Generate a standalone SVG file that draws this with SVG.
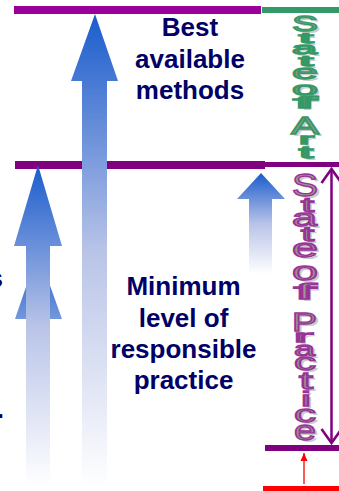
<svg xmlns="http://www.w3.org/2000/svg" xmlns:xlink="http://www.w3.org/1999/xlink" width="339" height="491" viewBox="0 0 339 491">
<style>
.lbl{font-family:"Liberation Sans",Arial,sans-serif;font-weight:bold;font-size:26px;fill:#000066;text-anchor:middle}
.vt{font-family:"Liberation Sans",Arial,sans-serif;font-weight:normal}
.shadow{fill:#c4c4c4;stroke:none;opacity:0.85}
.artTxt{fill:#9c968c;stroke:#339966;stroke-width:1.3}
.pracTxt{fill:#9c968c;stroke:#993399;stroke-width:1.3}
</style>
<defs>
<linearGradient id="blueFade" x1="0" y1="0" x2="0" y2="1">
<stop offset="0" stop-color="#1a5ccc"/>
<stop offset="0.5" stop-color="#b8c3e7"/>
<stop offset="1" stop-color="#ffffff"/>
</linearGradient>
<marker id="openHead" viewBox="-16 -12 18 24" refX="0" refY="0" markerWidth="18" markerHeight="24" markerUnits="userSpaceOnUse" orient="auto-start-reverse" overflow="visible">
<path d="M-14,-10 L0,0 L-14,10" fill="none" stroke="#800080" stroke-width="2.5" stroke-linejoin="miter"/>
</marker>
<marker id="redHead" viewBox="-9 -4 10 8" refX="0" refY="0" markerWidth="10" markerHeight="8" markerUnits="userSpaceOnUse" orient="auto" overflow="visible">
<path d="M-8,-3.5 L0,0 L-8,3.5 Z" fill="#ff0000"/>
</marker>
<g id="artLetters" class="vt">
<text x="292" y="31" font-size="22" textLength="26" lengthAdjust="spacingAndGlyphs">S</text>
<text x="299" y="43" font-size="15" textLength="14" lengthAdjust="spacingAndGlyphs">t</text>
<text x="292" y="54" font-size="17" textLength="25" lengthAdjust="spacingAndGlyphs">a</text>
<text x="299" y="66" font-size="15" textLength="14" lengthAdjust="spacingAndGlyphs">t</text>
<text x="292" y="79" font-size="21" textLength="26" lengthAdjust="spacingAndGlyphs">e</text>
<text x="292" y="95" font-size="19" textLength="26" lengthAdjust="spacingAndGlyphs">o</text>
<text x="294" y="108" font-size="16" textLength="22" lengthAdjust="spacingAndGlyphs">f</text>
<text x="291" y="134" font-size="24" textLength="28" lengthAdjust="spacingAndGlyphs">A</text>
<text x="299" y="144" font-size="15" textLength="15" lengthAdjust="spacingAndGlyphs">r</text>
<text x="299" y="158" font-size="16" textLength="14" lengthAdjust="spacingAndGlyphs">t</text>
</g>
<g id="pracLetters" class="vt">
<text x="292" y="196" font-size="31" textLength="26" lengthAdjust="spacingAndGlyphs">S</text>
<text x="301" y="212" font-size="21" textLength="13" lengthAdjust="spacingAndGlyphs">t</text>
<text x="292" y="226" font-size="23" textLength="25" lengthAdjust="spacingAndGlyphs">a</text>
<text x="301" y="241" font-size="20" textLength="13" lengthAdjust="spacingAndGlyphs">t</text>
<text x="292" y="257" font-size="26" textLength="26" lengthAdjust="spacingAndGlyphs">e</text>
<text x="292" y="280" font-size="26" textLength="26" lengthAdjust="spacingAndGlyphs">o</text>
<text x="294" y="299" font-size="22" textLength="22" lengthAdjust="spacingAndGlyphs">f</text>
<text x="292" y="331" font-size="26" textLength="25" lengthAdjust="spacingAndGlyphs">P</text>
<text x="294" y="342" font-size="17" textLength="19" lengthAdjust="spacingAndGlyphs">r</text>
<text x="294" y="356" font-size="21" textLength="21" lengthAdjust="spacingAndGlyphs">a</text>
<text x="294" y="370" font-size="23" textLength="22" lengthAdjust="spacingAndGlyphs">c</text>
<text x="299" y="389" font-size="24" textLength="14" lengthAdjust="spacingAndGlyphs">t</text>
<text x="301" y="406" font-size="21" textLength="10" lengthAdjust="spacingAndGlyphs">i</text>
<text x="294" y="422" font-size="24" textLength="22" lengthAdjust="spacingAndGlyphs">c</text>
<text x="294" y="440" font-size="28" textLength="22" lengthAdjust="spacingAndGlyphs">e</text>
</g>
</defs>
<rect width="339" height="491" fill="#ffffff"/>

<g id="levels">
<rect id="line-best" x="14" y="6" width="247" height="8" fill="#990099"/>
<rect id="line-art" x="262" y="7" width="77" height="6" fill="#339966"/>
<rect id="line-min" x="15" y="161" width="250" height="8" fill="#800080"/>
<rect id="line-min-right" x="265" y="162" width="74" height="5" fill="#800080"/>
<rect id="line-bottom" x="265" y="445" width="74" height="6" fill="#800080"/>
<rect id="line-red" x="263" y="486" width="76" height="5" fill="#ff0000"/>
</g>

<g id="arrows">
<path id="arrow-left-2" d="M38,252 L62,319 L50,319 L50,485 L26,485 L26,319 L15,319 Z" fill="url(#blueFade)"/>
<path id="arrow-left-1" d="M38,165 L62,246 L50,246 L50,485 L26,485 L26,246 L14,246 Z" fill="url(#blueFade)"/>
<path id="arrow-big" d="M95,14 L118,81 L107,81 L107,486 L82,486 L82,81 L71,81 Z" fill="url(#blueFade)"/>
<path id="arrow-right" d="M261,173 L285,199 L272,199 L272,274 L249,274 L249,199 L237,199 Z" fill="url(#blueFade)"/>
</g>

<g id="label-best">
<text class="lbl" x="190" y="36">Best</text>
<text class="lbl" x="190" y="68">available</text>
<text class="lbl" x="190" y="99">methods</text>
</g>

<g id="label-min">
<text class="lbl" x="183.5" y="295">Minimum</text>
<text class="lbl" x="183.5" y="327">level of</text>
<text class="lbl" x="183.5" y="358">responsible</text>
<text class="lbl" x="183.5" y="389">practice</text>
</g>

<g id="edge-fragments">
<text class="lbl" x="3" y="286.5" style="text-anchor:end">s</text>
<text class="lbl" x="4" y="418" style="text-anchor:end">.</text>
</g>

<g id="state-of-art">
<use xlink:href="#artLetters" x="3" y="2" class="shadow"/>
<use xlink:href="#artLetters" class="artTxt"/>
</g>

<g id="state-of-practice">
<use xlink:href="#pracLetters" x="3" y="2" class="shadow"/>
<use xlink:href="#pracLetters" class="pracTxt"/>
</g>

<g id="connectors">
<line id="range-arrow" x1="331.5" y1="169" x2="331.5" y2="443" stroke="#800080" stroke-width="2.5" marker-start="url(#openHead)" marker-end="url(#openHead)"/>
<line id="red-arrow" x1="304" y1="484" x2="304" y2="453" stroke="#ff0000" stroke-width="1.3" marker-end="url(#redHead)"/>
</g>
</svg>
